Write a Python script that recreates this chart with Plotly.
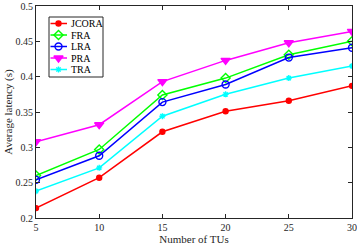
import plotly.graph_objects as go

tus = [5, 10, 15, 20, 25, 30]
jcora = [0.214, 0.257, 0.322, 0.351, 0.366, 0.387]
fra = [0.260, 0.297, 0.374, 0.398, 0.431, 0.450]
lra = [0.254, 0.288, 0.364, 0.389, 0.427, 0.441]
pra = [0.308, 0.332, 0.393, 0.423, 0.448, 0.464]
tra = [0.238, 0.271, 0.344, 0.375, 0.398, 0.415]

y_ticks = [0.2, 0.25, 0.3, 0.35, 0.4, 0.45, 0.5]
y_labels = ["0.2", "0.25", "0.3", "0.35", "0.4", "0.45", "0.5"]
x_ticks = [5, 10, 15, 20, 25, 30]

names = ["JCORA", "FRA", "LRA", "PRA", "TRA"]
values = [jcora, fra, lra, pra, tra]
colors = ["#FF0000", "#00FF00", "#0000FF", "#FF00FF", "#00FFFF"]
symbols = ["circle", "diamond-open", "circle-open", "triangle-down", "asterisk-open"]
sizes = [5, 7, 7, 8, 5]

W, H = 357, 247
L, R, T, B = 36, 5, 6, 29
font_family = "Liberation Serif"
axis_color = "#262626"

fig = go.Figure()
for name, vals, col, sym, sz in zip(names, values, colors, symbols, sizes):
    fig.add_trace(go.Scatter(
        x=tus, y=vals, name=name, mode="lines+markers",
        line=dict(color=col, width=1.5),
        marker=dict(symbol=sym, size=sz, color=col, line=dict(color=col, width=1.4)),
        showlegend=False,
    ))

# Custom compact legend (MATLAB style) drawn in pixel coordinates on an overlay axis
box_l, box_r, box_t, box_b = 49, 103, 17, 77
row0, row_step = 23.5, 11.5
line_x0, line_x1, mark_x, text_x = 50.5, 67, 58.5, 69
shapes = [dict(type="rect", xref="x2", yref="y2", x0=box_l, x1=box_r, y0=box_t, y1=box_b,
               line=dict(color=axis_color, width=1), fillcolor="white", layer="below")]
annotations = []
for i, (name, col, sym, sz) in enumerate(zip(names, colors, symbols, sizes)):
    yy = row0 + i * row_step
    fig.add_trace(go.Scatter(
        x=[line_x0, line_x1], y=[yy, yy], xaxis="x2", yaxis="y2", mode="lines",
        line=dict(color=col, width=1.5), showlegend=False, hoverinfo="skip"))
    fig.add_trace(go.Scatter(
        x=[mark_x], y=[yy], xaxis="x2", yaxis="y2", mode="markers",
        marker=dict(symbol=sym, size=sz, color=col, line=dict(color=col, width=1.4)),
        showlegend=False, hoverinfo="skip"))
    annotations.append(dict(x=text_x, y=yy, xref="x2", yref="y2", text=name,
                            showarrow=False, xanchor="left", yanchor="middle",
                            font=dict(family=font_family, size=10, color="black")))

axis_common = dict(
    showgrid=False, zeroline=False, showline=True, mirror="ticks",
    linecolor=axis_color, linewidth=1, ticks="inside", ticklen=4,
    tickcolor=axis_color, automargin=False,
    tickfont=dict(family=font_family, size=10, color=axis_color),
)
fig.update_layout(
    width=W, height=H,
    margin=dict(l=L, r=R, t=T, b=B),
    paper_bgcolor="white", plot_bgcolor="white",
    font=dict(family=font_family, size=10, color=axis_color),
    xaxis=dict(range=[5, 30], tickvals=x_ticks,
               title=dict(text="Number of TUs", standoff=0, font=dict(size=11)),
               **axis_common),
    yaxis=dict(range=[0.2, 0.5], tickvals=y_ticks, ticktext=y_labels,
               title=dict(text="Average latency (s)", standoff=0, font=dict(size=11)),
               **axis_common),
    xaxis2=dict(range=[L, W - R], overlaying="x", visible=False, fixedrange=True),
    yaxis2=dict(range=[H - B, T], overlaying="y", visible=False, fixedrange=True),
    shapes=shapes,
    annotations=annotations,
)
fig.write_html("out.html", config={"displayModeBar": False},
               post_script="document.body.style.margin='0';document.body.style.overflow='hidden';")
